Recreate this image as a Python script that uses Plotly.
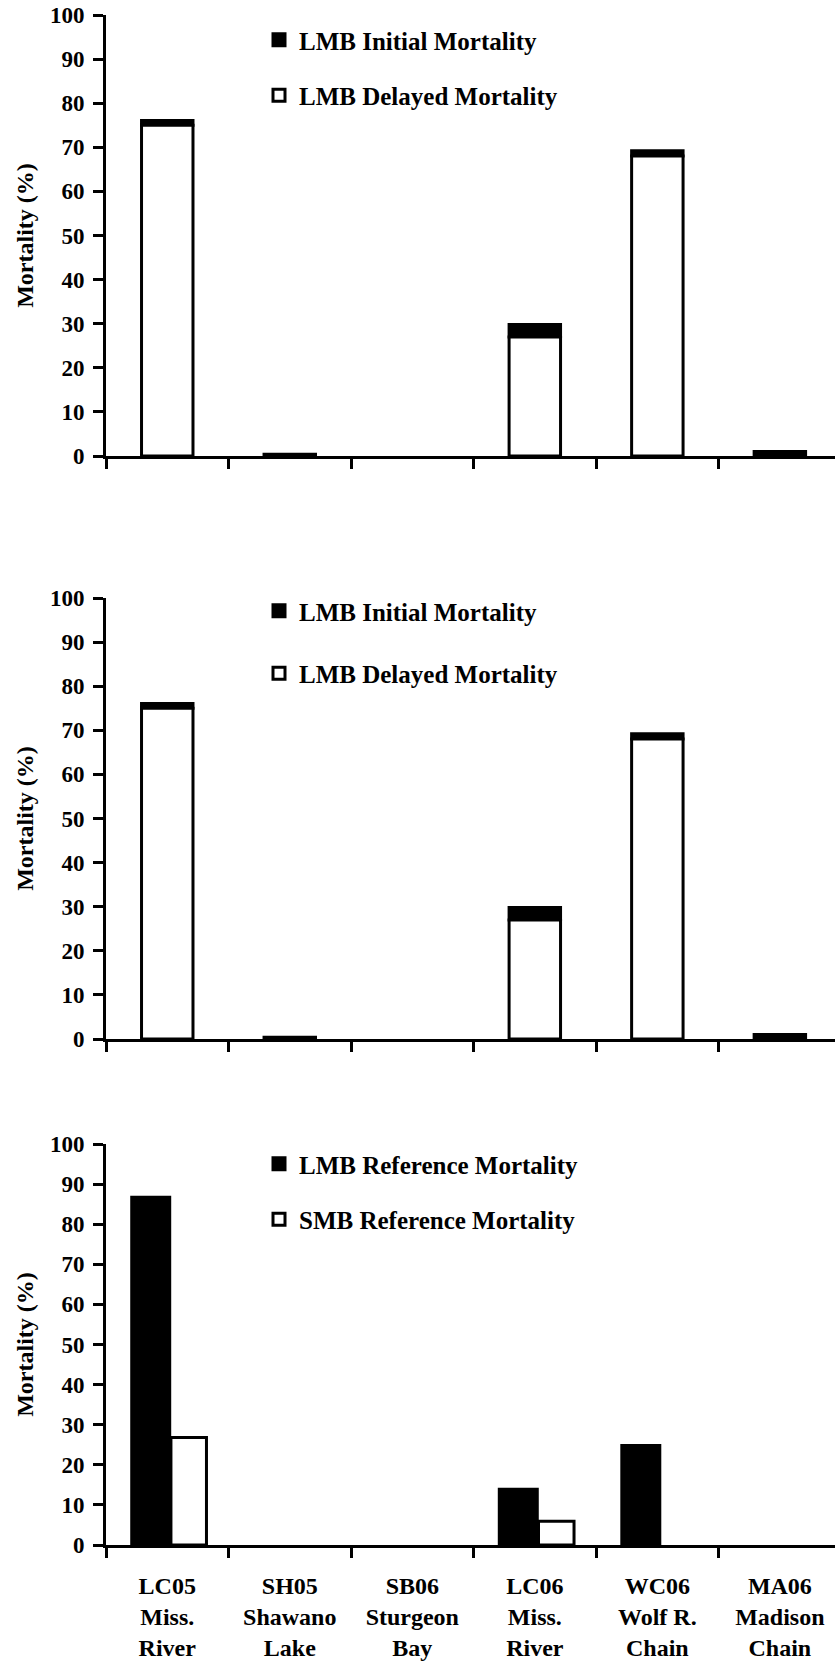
import plotly.graph_objects as go

# ---- data ----
sites = ["LC05<br>Miss.<br>River", "SH05<br>Shawano<br>Lake", "SB06<br>Sturgeon<br>Bay",
         "LC06<br>Miss.<br>River", "WC06<br>Wolf R.<br>Chain", "MA06<br>Madison<br>Chain"]
lmb_delayed = [75.0, 0.0, 0.0, 27.0, 68.0, 0.0]
lmb_initial = [1.1, 0.4, 0.0, 2.8, 1.2, 1.0]
lmb_reference = [86.7, 0.0, 0.0, 13.9, 24.8, 0.0]
smb_reference = [26.8, 0.0, 0.0, 5.9, 0.0, 0.0]
y_ticks = [0, 10, 20, 30, 40, 50, 60, 70, 80, 90, 100]


def nz(vals):
    # zero-height bars are not drawn in the original
    return [v if v > 0 else None for v in vals]


FONT = "Liberation Serif"
LW = 3

fig = go.Figure()

# panels 1 and 2: stacked (delayed bottom, initial on top)
for i, (xa, ya, lg) in enumerate([("x", "y", "legend"), ("x2", "y2", "legend2")]):
    fig.add_trace(go.Bar(
        x=sites, y=nz(lmb_initial), base=lmb_delayed, name="LMB Initial Mortality",
        marker=dict(color="black", line=dict(color="black", width=LW)),
        width=0.42, offset=-0.21, xaxis=xa, yaxis=ya, legend=lg,
        legendgroup=f"init{i}", legendrank=1))
    fig.add_trace(go.Bar(
        x=sites, y=nz(lmb_delayed), name="LMB Delayed Mortality",
        marker=dict(color="white", line=dict(color="black", width=LW)),
        width=0.42, offset=-0.21, xaxis=xa, yaxis=ya, legend=lg,
        legendgroup=f"del{i}", legendrank=2))

# panel 3: grouped reference mortality
fig.add_trace(go.Bar(
    x=sites, y=nz(lmb_reference), name="LMB Reference Mortality",
    marker=dict(color="black", line=dict(color="black", width=LW)),
    width=0.31, offset=-0.29, xaxis="x3", yaxis="y3", legend="legend3",
    legendgroup="lref"))
fig.add_trace(go.Bar(
    x=sites, y=nz(smb_reference), name="SMB Reference Mortality",
    marker=dict(color="white", line=dict(color="black", width=LW)),
    width=0.29, offset=0.03, xaxis="x3", yaxis="y3", legend="legend3",
    legendgroup="sref"))

H, W = 1665, 835
mt, ml, mr = 15, 106, 0
mb = H - 1545
ph = H - mt - mb


def py(page_px):
    return (H - mb - page_px) / ph


domains = [(py(456), py(15)), (py(1039), py(598)), (py(1545), py(1144))]

tickfont = dict(family=FONT, size=23, color="black", weight="bold")


def xaxis(anchor, show_labels):
    return dict(
        anchor=anchor, domain=[0, 1], type="category", categoryorder="array",
        categoryarray=sites, range=[-0.5, 5.45], showline=True, linecolor="black",
        linewidth=LW, ticks="outside", tickson="boundaries", ticklen=10, tickwidth=LW,
        tickcolor="black", showgrid=False, zeroline=False,
        showticklabels=show_labels, automargin=False, ticklabeloverflow="allow",
        tickfont=dict(family=FONT, size=24, color="black", weight="bold"),
        ticklabelstandoff=17, fixedrange=True)


def yaxis(anchor, dom):
    return dict(
        anchor=anchor, domain=list(dom), range=[0, 100], tickvals=y_ticks,
        showline=True, linecolor="black", linewidth=LW, ticks="outside", ticklen=10,
        tickwidth=LW, tickcolor="black", showgrid=False, zeroline=False,
        tickfont=tickfont, automargin=False, ticklabelstandoff=4,
        ticklabeloverflow="allow", fixedrange=True,
        title=dict(text="Mortality (%)", font=dict(family=FONT, size=24, color="black", weight="bold"),
                   standoff=10))


legend_common = dict(
    xanchor="left", yanchor="top", bgcolor="rgba(0,0,0,0)",
    font=dict(family=FONT, size=25, color="black", weight="bold"),
    traceorder="grouped", itemclick=False)

lx = (259 - 106) / (835 - 106)

fig.update_layout(
    width=W, height=H,
    margin=dict(t=mt, b=mb, l=ml, r=mr, autoexpand=False),
    paper_bgcolor="white", plot_bgcolor="white",
    barmode="overlay", showlegend=True, hovermode=False,
    xaxis=xaxis("y", False), yaxis=yaxis("x", domains[0]),
    xaxis2=xaxis("y2", False), yaxis2=yaxis("x2", domains[1]),
    xaxis3=xaxis("y3", True), yaxis3=yaxis("x3", domains[2]),
    legend=dict(x=lx, y=py(17), tracegroupgap=20, **legend_common),
    legend2=dict(x=lx, y=py(588), tracegroupgap=27, **legend_common),
    legend3=dict(x=lx, y=py(1141), tracegroupgap=20, **legend_common),
)

# remove the default 8px page margin so the figure fills the window exactly
fig.write_html("out.html", config={"displayModeBar": False},
               post_script="document.body.style.margin='0';document.body.style.overflow='hidden';")
